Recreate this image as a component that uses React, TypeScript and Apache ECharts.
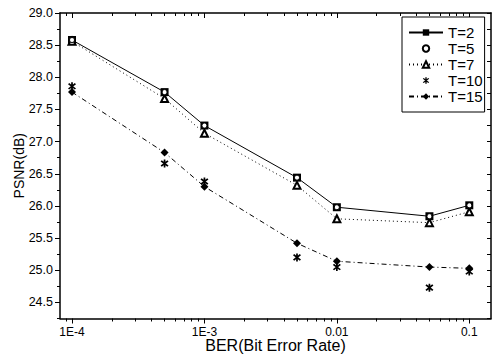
import React, { useEffect, useRef } from "react";
import * as echarts from "echarts";

// Bit error rates at which PSNR was measured
const berValues = [1e-4, 5e-4, 1e-3, 5e-3, 0.01, 0.05, 0.1];

// PSNR (dB) per threshold T
const psnrT2 = [28.58, 27.77, 27.25, 26.44, 25.98, 25.84, 26.01];
const psnrT5 = [28.58, 27.77, 27.25, 26.44, 25.98, 25.84, 26.01];
const psnrT7 = [28.56, 27.67, 27.13, 26.32, 25.8, 25.74, 25.91];
const psnrT10 = [27.86, 26.66, 26.38, 25.2, 25.05, 24.73, 24.98];
const psnrT15 = [27.77, 26.83, 26.3, 25.42, 25.14, 25.05, 25.03];

// Axis ticks
const xTickValues = [1e-4, 1e-3, 0.01, 0.1];
const xTickLabels = ["1E-4", "1E-3", "0.01", "0.1"];
const yTickValues = [24.5, 25.0, 25.5, 26.0, 26.5, 27.0, 27.5, 28.0, 28.5, 29.0];
const yMinorValues = [24.25, 24.75, 25.25, 25.75, 26.25, 26.75, 27.25, 27.75, 28.25, 28.75];

const X_MIN = -4.0907;
const X_MAX = -0.836;
const Y_MIN = 24.25;
const Y_MAX = 29.0;

const FONT = "'Liberation Sans', Arial, Helvetica, sans-serif";

const ASTERISK =
  "path://M4,0 L6,0 L6,10 L4,10 Z M0.3,2.4 L1.7,0.9 L9.7,7.6 L8.3,9.1 Z M8.3,0.9 L9.7,2.4 L1.7,9.1 L0.3,7.6 Z";

// log-decade minor tick positions (2..9 within each decade inside the range)
const xMinorLog: number[] = [];
for (let d = -5; d <= -1; d++) {
  for (let k = 2; k <= 9; k++) {
    const v = Math.log10(k * Math.pow(10, d));
    if (v > X_MIN && v < X_MAX) xMinorLog.push(v);
  }
}
const xMajorLog = xTickValues.map((v) => Math.log10(v));

const toPoints = (ys: number[]) => berValues.map((b, i) => [Math.log10(b), ys[i]]);

export default function App() {
  const ref = useRef<HTMLDivElement>(null);

  useEffect(() => {
    if (!ref.current) return;
    const chart = echarts.init(ref.current, undefined, { renderer: "svg" });

    const axisLine = { show: true, lineStyle: { color: "#000", width: 1.5 } };
    const baseX = {
      type: "value" as const,
      min: X_MIN,
      max: X_MAX,
      splitLine: { show: false },
    };
    const baseY = {
      type: "value" as const,
      min: Y_MIN,
      max: Y_MAX,
      splitLine: { show: false },
    };

    const black = "#000";

    chart.setOption({
      animation: false,
      backgroundColor: "#fff",
      grid: { left: 60, right: 3, top: 13, bottom: 41.5, containLabel: false },
      legend: {
        orient: "vertical",
        left: 402,
        top: 17,
        backgroundColor: "#fff",
        borderColor: "#000",
        borderWidth: 1,
        borderRadius: 0,
        padding: [8, 2, 8, 6],
        itemWidth: 34,
        itemHeight: 8,
        itemGap: 1,
        textStyle: { fontFamily: FONT, fontSize: 15, color: "#000" },
        data: ["T=2", "T=5", "T=7", "T=10", "T=15"],
      },
      xAxis: [
        {
          ...baseX,
          position: "bottom",
          name: "BER(Bit Error Rate)",
          nameLocation: "middle",
          nameGap: 19,
          nameMoveOverlap: false,
          nameTextStyle: { fontFamily: FONT, fontSize: 16, lineHeight: 16, color: black },
          axisLine,
          axisTick: { show: true, inside: false, length: 5, customValues: xMajorLog, lineStyle: { color: black, width: 1 } },
          axisLabel: {
            show: true,
            customValues: xMajorLog,
            margin: 7,
            fontFamily: FONT,
            fontSize: 12,
            lineHeight: 12,
            color: black,
            formatter: (v: number) => {
              const i = xMajorLog.findIndex((m) => Math.abs(m - v) < 1e-6);
              return i >= 0 ? xTickLabels[i] : "";
            },
          },
        },
        {
          ...baseX,
          position: "bottom",
          axisLine: { show: false },
          axisTick: { show: true, inside: false, length: 3, customValues: xMinorLog, lineStyle: { color: black, width: 1 } },
          axisLabel: { show: false },
        },
        {
          ...baseX,
          position: "top",
          axisLine,
          axisTick: { show: true, inside: true, length: 5, customValues: xMajorLog, lineStyle: { color: black, width: 1 } },
          axisLabel: { show: false },
        },
        {
          ...baseX,
          position: "top",
          axisLine: { show: false },
          axisTick: { show: true, inside: true, length: 3, customValues: xMinorLog, lineStyle: { color: black, width: 1 } },
          axisLabel: { show: false },
        },
      ],
      yAxis: [
        {
          ...baseY,
          position: "left",
          name: "PSNR(dB)",
          nameLocation: "middle",
          nameGap: 34,
          nameMoveOverlap: false,
          nameTextStyle: { fontFamily: FONT, fontSize: 14, color: black },
          axisLine,
          axisTick: { show: true, inside: false, length: 5, customValues: yTickValues, lineStyle: { color: black, width: 1 } },
          axisLabel: {
            show: true,
            customValues: yTickValues,
            margin: 7,
            fontFamily: FONT,
            fontSize: 12.5,
            color: black,
            formatter: (v: number) => v.toFixed(1),
          },
        },
        {
          ...baseY,
          position: "left",
          axisLine: { show: false },
          axisTick: { show: true, inside: false, length: 3, customValues: yMinorValues, lineStyle: { color: black, width: 1 } },
          axisLabel: { show: false },
        },
        {
          ...baseY,
          position: "right",
          axisLine,
          axisTick: {
            show: true,
            inside: true,
            length: 4,
            customValues: [...yTickValues, ...yMinorValues].sort((a, b) => a - b),
            lineStyle: { color: black, width: 1 },
          },
          axisLabel: { show: false },
        },
      ],
      series: [
        {
          name: "T=2",
          type: "line",
          data: toPoints(psnrT2),
          symbol: "rect",
          symbolSize: 8,
          itemStyle: { color: black },
          lineStyle: { color: black, width: 1, type: "solid" },
          z: 2,
        },
        {
          name: "T=5",
          type: "line",
          data: toPoints(psnrT5),
          symbol: "circle",
          symbolSize: 5,
          itemStyle: { color: "#fff", borderColor: black, borderWidth: 1 },
          lineStyle: { width: 0, opacity: 0 },
          z: 3,
        },
        {
          name: "T=7",
          type: "line",
          data: toPoints(psnrT7),
          symbol: "emptyTriangle",
          symbolSize: 7,
          itemStyle: { color: black, borderColor: black, borderWidth: 1.5 },
          lineStyle: { color: black, width: 1, type: [1, 3] },
          z: 2,
        },
        {
          name: "T=10",
          type: "line",
          data: toPoints(psnrT10),
          symbol: ASTERISK,
          symbolSize: 8,
          itemStyle: { color: black },
          lineStyle: { width: 0, opacity: 0 },
          z: 2,
        },
        {
          name: "T=15",
          type: "line",
          data: toPoints(psnrT15),
          symbol: "diamond",
          symbolSize: 8,
          itemStyle: { color: black },
          lineStyle: { color: black, width: 1, type: [5, 3, 1, 3] },
          z: 2,
        },
      ],
    });

    return () => chart.dispose();
  }, []);

  return (
    <div
      ref={ref}
      style={{ position: "fixed", left: 0, top: 0, width: 494, height: 360, background: "#fff" }}
    />
  );
}
